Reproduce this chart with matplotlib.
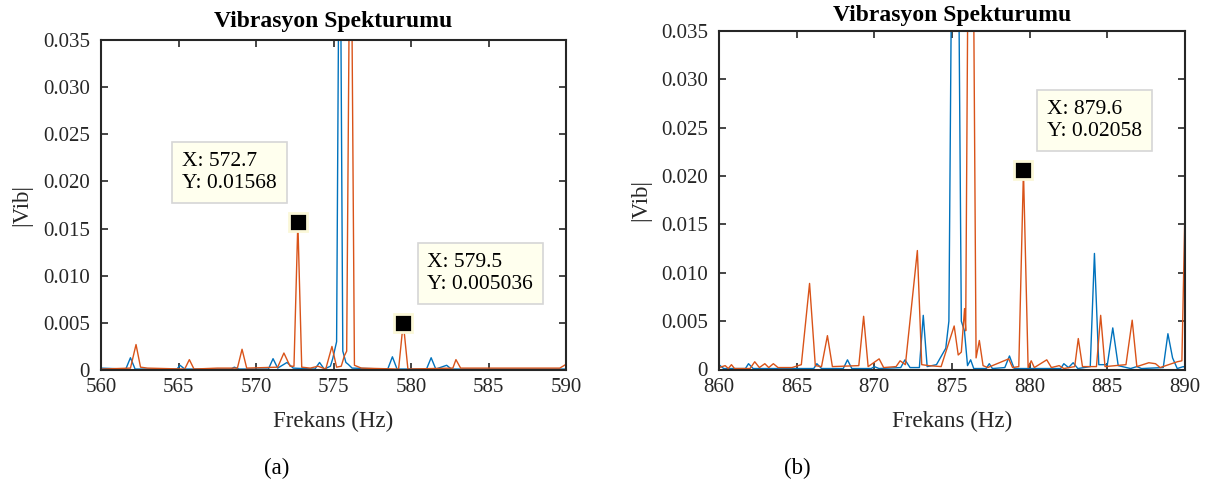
import matplotlib
matplotlib.use('Agg')
import matplotlib.pyplot as plt
from matplotlib import transforms
from matplotlib.ticker import FuncFormatter, MultipleLocator

plt.rcParams['font.family'] = ['Liberation Serif', 'DejaVu Serif']

# ---- data (Hz, |Vib|) ----
# panel (a), 560-590 Hz
a_blue_f = [560.0, 561.6, 561.9, 562.2, 564.9, 565.1, 565.4, 568.4, 568.6, 568.9,
            570.8, 571.1, 571.4, 572.0, 572.4, 573.8, 574.1, 574.4, 574.8, 574.95,
            575.2, 575.4, 575.6, 575.8, 575.95, 576.2, 578.5, 578.8, 579.1, 581.0,
            581.3, 581.6, 582.3, 582.6, 590.0]
a_blue_v = [0.0002, 0.0001, 0.0013, 0.0001, 0.0001, 0.0005, 0.0001, 0.0001, 0.0003, 0.0001,
            0.0001, 0.0012, 0.0002, 0.0008, 0.0002, 0.0001, 0.0008, 0.0001, 0.0004, 0.0012,
            0.003, 0.058, 0.002, 0.0008, 0.0006, 0.0002, 0.0001, 0.0014, 0.0001, 0.0001,
            0.0013, 0.0001, 0.0005, 0.0001, 0.0001]

a_orng_f = [560.0, 561.9, 562.26, 562.55, 563.0, 565.4, 565.7, 566.0, 567.5, 568.8,
            569.1, 569.4, 571.4, 571.8, 572.2, 572.45, 572.7, 572.95, 573.5, 574.0,
            574.5, 574.9, 575.2, 575.5, 575.7, 575.85, 576.1, 576.35, 576.8, 579.2,
            579.5, 579.8, 582.7, 582.9, 583.2, 589.6, 590.0]
a_orng_v = [0.0001, 0.0002, 0.0027, 0.0003, 0.0002, 0.0001, 0.0011, 0.0001, 0.0002, 0.0002,
            0.0022, 0.0002, 0.0003, 0.0018, 0.0004, 0.0004, 0.01568, 0.0003, 0.0002, 0.0004,
            0.0001, 0.0025, 0.0003, 0.0004, 0.0015, 0.002, 0.058, 0.0005, 0.0002, 0.0001,
            0.005036, 0.0001, 0.0002, 0.0011, 0.0002, 0.0002, 0.0006]

# panel (b), 860-890 Hz
b_blue_f = [860.0, 860.3, 861.7, 861.9, 862.2, 866.1, 866.3, 866.6, 868.0, 868.27,
            868.55, 869.8, 870.0, 870.3, 871.7, 871.97, 872.3, 872.9, 873.15, 873.4,
            874.0, 874.6, 874.8, 875.2, 875.6, 875.8, 876.0, 876.2, 876.4, 877.2,
            877.4, 877.6, 878.4, 878.7, 879.0, 882.0, 882.2, 882.5, 882.8, 883.1,
            883.9, 884.17, 884.45, 885.0, 885.35, 885.7, 886.5, 886.9, 887.2, 888.6,
            888.9, 889.2, 889.5, 889.9, 890.0]
b_blue_v = [0.0005, 0.0001, 0.0001, 0.0006, 0.0001, 0.0001, 0.0006, 0.0001, 0.0001, 0.001,
            0.0001, 0.0001, 0.0003, 0.0001, 0.0002, 0.001, 0.0002, 0.0002, 0.0056, 0.0003,
            0.0005, 0.0022, 0.005, 0.09, 0.005, 0.004, 0.0004, 0.001, 0.0001, 0.0001,
            0.0006, 0.0001, 0.0002, 0.0014, 0.0001, 0.0001, 0.0006, 0.0002, 0.0007, 0.0001,
            0.0003, 0.012, 0.0005, 0.0005, 0.0043, 0.0004, 0.0001, 0.0003, 0.0001, 0.0002,
            0.0037, 0.0012, 0.0001, 0.0003, 0.0002]

b_orng_f = [860.0, 860.4, 860.6, 860.8, 861.0, 862.0, 862.3, 862.6, 862.95, 863.2,
            863.5, 863.8, 864.7, 865.3, 865.83, 866.2, 866.6, 866.98, 867.3, 869.0,
            869.31, 869.6, 870.31, 870.6, 871.4, 871.66, 872.0, 872.77, 873.05, 873.5,
            874.3, 875.14, 875.4, 875.6, 875.81, 875.88, 876.2, 876.55, 876.76, 877.0,
            877.3, 878.65, 878.9, 879.3, 879.6, 879.9, 880.1, 880.3, 881.1, 881.4,
            881.9, 882.2, 882.9, 883.13, 883.4, 884.3, 884.57, 884.85, 886.2, 886.6,
            886.9, 887.67, 888.1, 888.4, 889.5, 889.8, 890.0]
b_orng_v = [0.0002, 0.0004, 0.0001, 0.0005, 0.0001, 0.0001, 0.0008, 0.0002, 0.0006, 0.0002,
            0.0006, 0.0002, 0.0002, 0.0005, 0.0089, 0.0004, 0.0003, 0.0035, 0.0003, 0.0004,
            0.0055, 0.0003, 0.0011, 0.0002, 0.0003, 0.0009, 0.0005, 0.0123, 0.0005, 0.0004,
            0.0003, 0.0045, 0.0015, 0.0018, 0.0063, 0.004, 0.085, 0.0012, 0.003, 0.0004,
            0.0002, 0.0011, 0.0002, 0.0003, 0.02058, 0.0002, 0.0009, 0.0002, 0.001, 0.0002,
            0.0004, 0.0001, 0.0003, 0.0032, 0.0003, 0.0003, 0.0056, 0.0003, 0.0005, 0.0051,
            0.0003, 0.0007, 0.0006, 0.0002, 0.0008, 0.0009, 0.0168]

# data tips
a_tip_x = [572.7, 579.5]
a_tip_y = [0.01568, 0.005036]
b_tip_x = [879.6]
b_tip_y = [0.02058]

W, H = 1209, 491
BLUE = '#0072BD'
ORANGE = '#D95319'
AXC = '#262626'
FS = 15


def px(x, y):
    # pixel position (from top-left) -> figure fraction
    return x / W, 1 - y / H


fig = plt.figure(figsize=(W / 100, H / 100), dpi=100)


def make_axes(rect, bf, bv, of, ov, xlim, tips_x, tips_y, boxes):
    ax = fig.add_axes(rect)
    ax.plot(bf, bv, color=BLUE, lw=1.0)
    ax.plot(of, ov, color=ORANGE, lw=1.0)
    ax.set_xlim(*xlim)
    ax.set_ylim(0, 0.035)
    ax.xaxis.set_major_locator(MultipleLocator(5))
    ax.yaxis.set_major_locator(MultipleLocator(0.005))
    ax.yaxis.set_major_formatter(FuncFormatter(lambda v, p: '0' if abs(v) < 1e-9 else f'{v:.3f}'))
    ax.tick_params(direction='in', top=True, right=True, length=5, width=1.2,
                   labelsize=FS, colors=AXC)
    ax.tick_params(axis='x', pad=6)
    ax.tick_params(axis='y', pad=8)
    for s in ax.spines.values():
        s.set_linewidth(1.5)
        s.set_color(AXC)
    for tx, ty, (bx, by) in zip(tips_x, tips_y, boxes):
        ax.plot([tx], [ty], 's', ms=12.5, mfc='black', mec='#fbf8d8', mew=2,
                zorder=5, clip_on=False)
        tr = transforms.offset_copy(ax.transAxes, fig=fig, x=10, y=-10, units='dots')
        ax.text(bx, by, f'X: {tx}\nY: {ty}', transform=tr, ha='left', va='top',
                fontsize=15.5, color='black', linespacing=1.25, zorder=6,
                bbox=dict(boxstyle='square,pad=0.45', fc='#ffffee', ec='#d6d6d6', lw=1.2))
    return ax


# left panel: axes 101..566 px wide, 40..370 px tall
axa = make_axes([101 / W, 1 - 370 / H, 465 / W, 330 / H],
                a_blue_f, a_blue_v, a_orng_f, a_orng_v, (560, 590),
                a_tip_x, a_tip_y, [(0.153, 0.691), (0.680, 0.385)])
# right panel
axb = make_axes([719 / W, 1 - 369.5 / H, 466 / W, 338.5 / H],
                b_blue_f, b_blue_v, b_orng_f, b_orng_v, (860, 890),
                b_tip_x, b_tip_y, [(0.682, 0.826)])

for cx, ty, ly_x, ly_y, lab, lab_x in [(333, 21, 22, 205, '(a)', 277),
                                       (952, 15, 641, 200, '(b)', 797)]:
    fig.text(*px(cx, ty), 'Vibrasyon Spekturumu', ha='center', va='center',
             fontsize=17, fontweight='bold', color='black')
    fig.text(*px(cx, 421), 'Frekans (Hz)', ha='center', va='center', fontsize=16.5, color=AXC)
    fig.text(*px(ly_x, ly_y), '|Vib|', ha='center', va='center', rotation=90,
             fontsize=16.5, color=AXC)
    fig.text(*px(lab_x, 468), lab, ha='center', va='center', fontsize=16.5, color='black')

fig.savefig('out.png', dpi=100)
